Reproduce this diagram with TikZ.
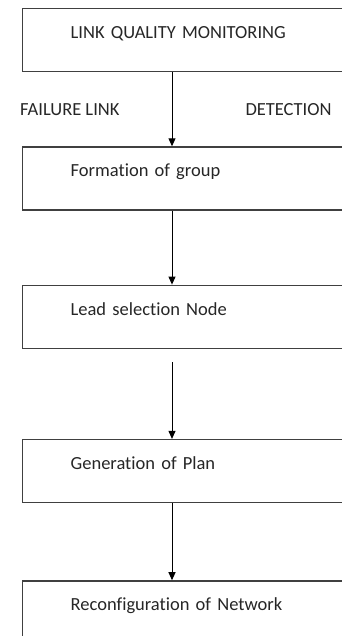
\documentclass[tikz,border=0pt]{standalone}
\usepackage{fontspec}
\setmainfont{Carlito}[Ligatures=NoCommon]
\usetikzlibrary{positioning, arrows.meta}

\begin{document}
\begin{tikzpicture}[x=1pt, y=-1pt, >={Triangle[width=7pt,length=8pt]}, node distance=74pt,
	stage/.style={draw=black!75, line width=1.3pt, anchor=north west, align=left,
		text width=290pt, inner xsep=48pt, inner ysep=0pt, text height=30pt, text depth=33pt,
		font=\fontsize{18.5}{22}\selectfont, text=black!85},
	tag/.style={inner sep=0pt, font=\fontsize{18.5}{22}\selectfont, text=black!85},
	flow/.style={->, line width=1pt}]

	\useasboundingbox (0,0) rectangle (342,636);
	\clip (0,0) rectangle (342,636);

	\node[stage] (mon) at (22,8) {LINK QUALITY MONITORING};
	\node[stage, below=of mon] (grp) {Formation of group};
	\node[stage, below=of grp] (lead) {Lead selection Node};
	\node[stage, below=90pt of lead] (plan) {Generation of Plan};
	\node[stage, below=77pt of plan] (net) {Reconfiguration of Network};

	\coordinate (axis) at (172,0);
	\coordinate (gap) at (172,362);

	\draw[flow] (mon.south -| axis) -- node[tag, left=52pt] {FAILURE LINK}
		node[tag, right=73pt] {DETECTION} (grp.north -| axis);
	\draw[flow] (grp.south -| axis) -- (lead.north -| axis);
	\draw[flow] (gap) -- (plan.north -| axis);
	\draw[flow] (plan.south -| axis) -- (net.north -| axis);

\end{tikzpicture}
\end{document}
